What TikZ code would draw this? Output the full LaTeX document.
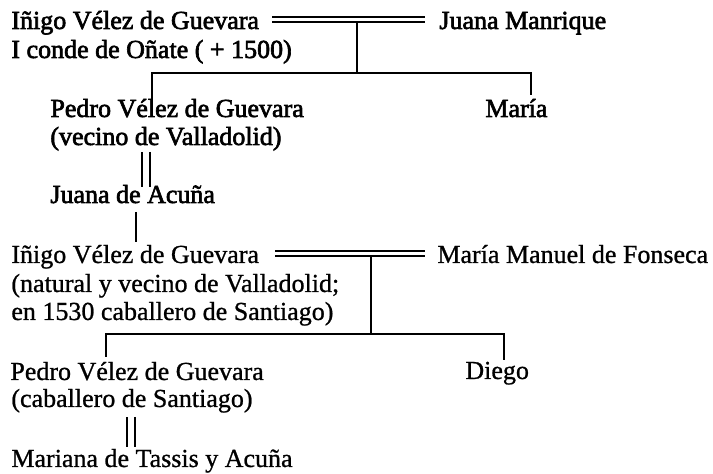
\documentclass[tikz,border=0pt]{standalone}
\usepackage{fontspec}
\setmainfont{Liberation Serif}
\newfontfamily\inkheavy{Liberation Serif}[FakeBold=2.4]
\newfontfamily\inklight{Liberation Serif}[FakeBold=0.9]
\usetikzlibrary{calc}

\tikzset{
  person/.style={anchor=base west,inner sep=0pt,font=\fontsize{13}{15}\inklight},
  elder/.style={person,font=\fontsize{13}{15}\inkheavy},
  line/.style={line width=1pt},
  wed/.style={double,line width=.9pt,double distance=1.5pt},
  wedv/.style={double,line width=.9pt,double distance=2.8pt}
}

\begin{document}
\begin{tikzpicture}[x=0.5pt,y=-0.5pt]
\useasboundingbox (0,0) rectangle (713,474);

% first generation
\node[elder] (ivg) at (11,29) {Iñigo Vélez de Guevara};
\node[elder] (ivgt) at (11,58) {I conde de Oñate ( + 1500)};
\node[elder] (jm) at (439,29) {Juana Manrique};

% children
\node[elder] (pvg) at (50,117) {Pedro Vélez de Guevara};
\node[elder] (pvgt) at (50,145) {(vecino de Valladolid)};
\node[elder] (mar) at (485,117) {María};
\node[elder] (ja) at (50,203) {Juana de Acuña};

% grandson
\node[person] (ivg2) at (11,263) {Iñigo Vélez de Guevara};
\node[person] (ivg2t) at (11,292) {(natural y vecino de Valladolid;};
\node[person] (ivg2u) at (11,320) {en 1530 caballero de Santiago)};
\node[person] (mmf) at (437,263) {María Manuel de Fonseca};

% great-grandchildren
\node[person] (pvg2) at (10,380) {Pedro Vélez de Guevara};
\node[person] (pvg2t) at (11,407) {(caballero de Santiago)};
\node[person] (dg) at (465,379) {Diego};
\node[person] (mta) at (11,467) {Mariana de Tassis y Acuña};

\coordinate (k1) at (357,73);
\coordinate (k2) at (371,334.5);

\draw[line] ([shift={(346,-9.5)}]ivg.base west) -- (k1);
\draw[wed] ([shift={(261,-9.5)}]ivg.base west) -- ([shift={(-14,-9.5)}]jm.base west);
\draw[line] ([shift={(102,-9)}]pvg.base west) |- (k1) -| ([shift={(46,-22)}]mar.base west);

\draw[wedv] ([shift={(96,7)}]pvgt.base west) -- ([shift={(96,-16)}]ja.base west);
\draw[line] ([shift={(86,9)}]ja.base west) -- ([shift={(125,-21)}]ivg2.base west);

\draw[line] ([shift={(360,-9.5)}]ivg2.base west) -- (k2);
\draw[wed] ([shift={(264,-9.5)}]ivg2.base west) -- ([shift={(-12,-9.5)}]mmf.base west);
\draw[line] ([shift={(96,-23)}]pvg2.base west) |- (k2) -| ([shift={(39,-19)}]dg.base west);

\draw[wedv] ([shift={(120,10)}]pvg2t.base west) -- ([shift={(120,-20)}]mta.base west);
\end{tikzpicture}
\end{document}
